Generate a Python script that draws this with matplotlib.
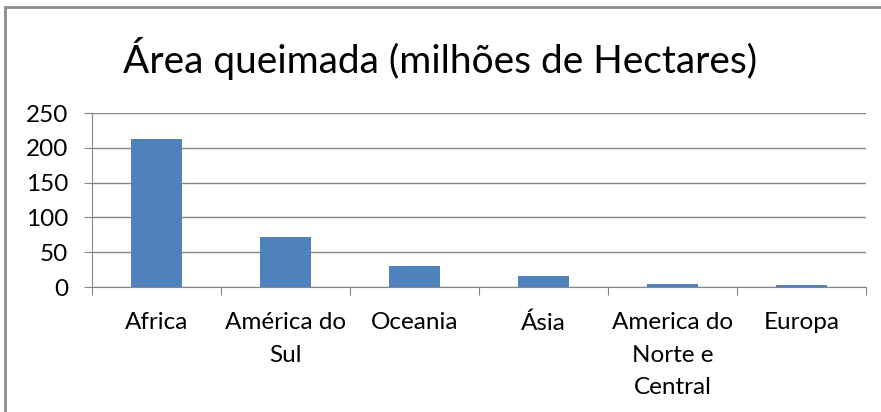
import matplotlib.pyplot as plt
from matplotlib.patches import Rectangle
import numpy as np

# burned area per region (millions of hectares)
regioes = ["Africa", "América do\nSul", "Oceania", "Ásia", "America do\nNorte e\nCentral", "Europa"]
area = [212, 72, 30, 16, 4, 2.5]

plt.rcParams['font.family'] = ['Lato', 'DejaVu Sans']

fig = plt.figure(figsize=(8.81, 4.12), dpi=100)
ax = fig.add_axes([92 / 881, 1 - 287 / 412, (866 - 92) / 881, (287 - 113) / 412])

# chart frame, cut off at right and bottom
fig.patches.append(Rectangle((5 / 881, -0.1), 1.2, 1 - 7 / 412 + 0.1, transform=fig.transFigure,
                             fill=False, edgecolor='#8c8c8c', linewidth=2))

x = np.arange(len(regioes))
ax.bar(x, area, width=0.4, color='#4f81bd', zorder=3)

ax.set_xlim(-0.5, len(regioes) - 0.5)
ax.set_ylim(0, 250)
ax.set_yticks(range(0, 251, 50))
ax.yaxis.grid(True, color='#868686', linewidth=1)
ax.set_axisbelow(True)

ax.set_xticks(np.arange(-0.5, len(regioes), 1.0))
ax.set_xticklabels([])
ax.set_xticks(x, minor=True)
ax.set_xticklabels(regioes, minor=True, fontsize=17.5, linespacing=1.68, va='top')
ax.tick_params(axis='x', which='minor', length=0, pad=18)
ax.tick_params(axis='x', which='major', length=6, color='#868686')
ax.tick_params(axis='y', length=6, color='#868686', labelsize=17.5, pad=11)

for s in ['top', 'right']:
    ax.spines[s].set_visible(False)
ax.spines['left'].set_color('#868686')
ax.spines['bottom'].set_color('#868686')

fig.text(0.5, 1 - 58 / 412, "Área queimada (milhões de Hectares)", ha='center', va='center', fontsize=28)

fig.savefig("out.png", dpi=100)
